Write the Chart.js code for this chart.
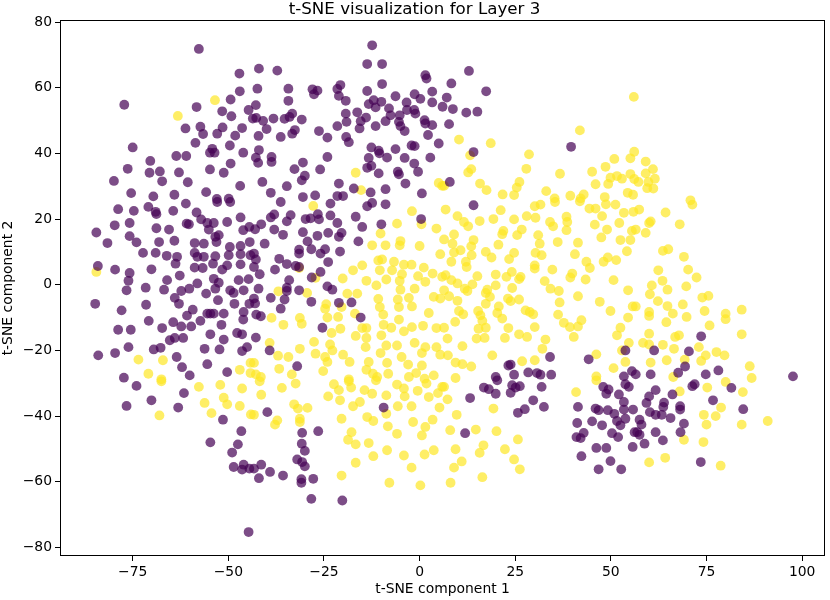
<!DOCTYPE html>
<html>
<head>
<meta charset="utf-8">
<script src="https://cdn.jsdelivr.net/npm/chart.js@4.4.1/dist/chart.umd.min.js"></script>
<style>
html, body { margin: 0; padding: 0; background: #fff; }
#wrap { width: 830px; height: 600px; }
</style>
</head>
<body>
<div id="wrap"><canvas id="tsneChart" width="830" height="600"></canvas></div>
<script>

// class 0 (dark purple) points
const class0 = [
  [-57.7,71.8],[-47.1,64.3],[-47.0,58.9],[-49.4,56.4],[-77.2,54.8],[-58.3,54.1],[-44.7,53.2],[-51.6,52.8],[-49.2,51.3],
  [-61.2,47.6],[-57.3,48.1],[-56.6,45.9],[-52.9,46.0],[-51.5,47.9],[-46.4,47.7],[-48.2,45.4],[-58.6,43.2],[-75.0,41.8],
  [-54.2,41.4],[-54.8,40.2],[-53.6,40.2],[-49.6,42.4],[-46.1,40.2],[-63.6,39.2],[-61.0,39.2],[-70.4,37.7],[-49.4,36.9],
  [-76.3,35.3],[-54.8,35.1],[-70.6,34.1],[-67.9,34.5],[-62.9,34.2],[-51.2,34.1],[-79.9,31.6],[-67.3,31.5],[-60.6,31.2],
  [-46.9,30.1],[-75.4,27.9],[-69.6,26.9],[-64.1,27.4],[-55.8,28.2],[-53.0,26.1],[-49.9,26.2],[-43.6,50.6],
  [-12.4,72.9],[-13.7,67.2],[-9.8,67.2],[-42.0,65.8],[-37.2,65.2],[1.5,63.8],[1.8,62.8],[-9.8,61.1],[-42.4,59.7],
  [-34.3,59.7],[-13.7,59.0],[-28.0,59.5],[-26.7,59.1],[-27.6,58.0],[-20.7,60.8],[-21.5,59.6],[-21.1,57.5],[-6.3,57.4],
  [-1.3,58.0],[3.3,58.8],[0.2,56.6],[-34.3,56.0],[-19.3,56.0],[-13.3,55.0],[-12.0,56.2],[-10.0,55.7],[-11.5,54.0],
  [-3.4,55.5],[3.3,55.5],[-42.8,54.7],[-8.0,53.7],[-3.3,53.2],[-1.4,53.2],[6.0,54.2],[-16.3,52.5],[-19.3,52.1],
  [-7.6,51.6],[-5.2,51.6],[-1.1,52.1],[-14.0,50.9],[-33.3,52.1],[-34.0,51.1],[-35.3,50.5],[-30.8,50.3],[-42.7,50.8],
  [-40.9,49.9],[-38.2,50.6],[-15.4,49.8],[-19.1,49.6],[-8.9,49.8],[-5.4,49.6],[1.3,50.1],[1.5,49.1],[3.3,48.6],
  [-40.0,47.4],[-21.5,48.3],[-15.7,47.6],[-11.5,48.3],[-5.0,48.3],[-32.6,47.1],[-33.3,46.0],[-26.3,46.8],[-3.9,46.8],
  [-42.1,45.3],[-36.3,45.0],[-24.1,44.8],[-19.2,45.0],[2.2,45.6],[-18.5,43.4],[5.0,43.0],[-12.6,41.8],[-6.3,41.3],
  [-2.1,42.4],[-1.3,42.2],[-42.0,41.0],[-10.7,40.8],[-10.5,40.0],[-8.5,38.7],[-13.3,38.6],[-3.9,38.6],[2.8,38.7],
  [-42.8,38.7],[-38.7,38.9],[-38.7,37.4],[-42.2,37.1],[-24.1,38.9],[-30.5,37.2],[-1.4,36.9],[-12.6,36.2],[-13.7,35.6],
  [-32.7,35.2],[-26.0,35.1],[-5.7,34.4],[-5.4,33.6],[-10.7,33.9],[-0.4,34.4],[-30.0,33.2],[-30.8,31.8],[-41.1,31.3],
  [-21.1,30.8],[-3.7,30.8],[-34.7,30.0],[-8.9,29.1],[-17.2,29.3],[-38.9,28.0],[-12.8,28.1],[0.6,27.8],[-27.3,27.2],
  [-30.5,26.7],[-21.5,27.0],[-20.0,27.0],
  [12.9,65.1],[8.3,61.3],[17.4,58.9],[7.1,57.0],[8.7,53.5],[12.2,52.4],[15.1,52.7],[7.7,48.9],[39.6,42.0],[14.1,40.4],[7.9,31.3],
  [-78.8,23.0],[-74.7,22.5],[-70.9,23.7],[-69.0,22.2],[-68.8,21.5],[-64.4,22.5],[-61.1,24.7],[-58.3,22.0],[-52.9,25.2],
  [-49.5,25.2],[-79.7,18.1],[-75.8,18.8],[-68.8,17.2],[-65.5,16.8],[-60.9,18.6],[-60.3,18.4],[-57.1,19.9],[-55.5,18.8],
  [-53.8,18.8],[-50.3,19.1],[-46.8,20.5],[-55.1,16.8],[-46.1,16.6],[-44.5,17.6],[-84.5,15.9],[-81.6,12.7],[-75.8,14.8],
  [-74.0,12.9],[-68.1,13.0],[-64.1,13.4],[-58.8,12.7],[-56.4,12.5],[-53.4,14.6],[-52.5,15.1],[-53.1,13.0],[-49.6,11.5],
  [-46.8,11.8],[-44.4,13.0],[-72.3,9.7],[-69.0,9.7],[-66.1,8.8],[-63.4,8.5],[-63.8,6.4],[-58.8,9.7],[-58.1,8.5],
  [-56.4,8.5],[-53.4,8.7],[-49.9,9.0],[-46.8,9.3],[-44.2,9.0],[-84.1,5.7],[-79.6,4.6],[-75.8,3.6],[-70.1,4.7],
  [-62.7,2.8],[-58.8,5.2],[-56.7,5.1],[-54.0,6.4],[-51.6,4.6],[-50.3,5.9],[-46.8,6.2],[-76.1,1.2],[-66.0,1.4],
  [-58.1,0.4],[-53.8,1.8],[-52.5,0.6],[-47.3,1.4],[-44.7,1.7],[-76.6,-1.7],[-71.6,-0.9],[-66.8,-1.5],[-62.3,-1.9],
  [-60.2,-1.2],[-55.8,-2.7],[-53.4,-1.2],[-49.5,-1.7],[-48.6,-2.5],[-46.0,-1.7],[-64.0,-4.0],[-62.9,-5.8],[-52.7,-4.7],
  [-84.8,-5.8],[-71.5,-6.1],[-48.4,-5.8],[-44.5,-5.8],[-77.9,-7.8],[-59.3,-7.6],[-60.8,-9.4],[-55.5,-8.8],[-54.7,-8.8],
  [-53.8,-8.8],[-51.2,-8.8],[-46.0,-8.3],[-46.1,-10.6],[-70.8,-11.0],[-57.3,-11.0],[-78.8,-13.7],[-75.5,-13.7],[-67.3,-13.2],
  [-64.4,-11.4],[-62.3,-12.7],[-59.7,-12.7],[-51.8,-12.2],[-54.7,-15.1],[-47.7,-14.7],[-46.4,-15.1],[-65.3,-16.9],[-64.0,-16.2],
  [-61.8,-16.2],[-51.2,-16.7],[-76.1,-19.0],[-69.5,-19.7],[-67.7,-19.2],[-56.2,-19.5],[-52.3,-19.7],[-46.4,-20.2],[-45.1,-19.0],
  [-84.0,-21.5],[-79.6,-20.8],[-63.5,-22.0],[-62.1,-25.1],[-55.5,-24.2],[-50.3,-26.6],[-60.1,-27.6],[-77.3,-28.3],
  [-36.3,25.2],[-23.3,24.7],[-13.7,23.9],[-12.4,24.9],[-8.9,24.5],[-38.0,21.4],[-38.9,20.5],[-33.7,21.2],[-34.7,19.3],
  [-29.8,20.0],[-28.5,20.2],[-26.6,21.5],[-26.3,19.9],[-23.3,21.1],[-21.5,18.8],[-16.7,20.7],[0.4,20.0],[-10.0,18.4],
  [-15.0,17.6],[-41.4,18.4],[-43.0,16.9],[-38.0,16.8],[-30.5,16.0],[-26.7,14.9],[-23.9,15.8],[-20.4,15.8],[-21.1,14.6],
  [-35.7,15.2],[-40.5,12.5],[-29.3,13.2],[-16.0,13.2],[-31.5,10.7],[-31.5,9.5],[-28.3,10.8],[-25.9,9.5],[-24.7,10.8],
  [-20.8,10.1],[-43.3,9.5],[-42.8,7.7],[-36.7,7.9],[-34.7,6.3],[-23.9,6.9],[-43.3,5.4],[-41.8,3.2],[-37.8,4.6],
  [-32.4,5.7],[-31.5,5.4],[-25.9,3.9],[-28.2,2.2],[-34.1,1.4],[-42.1,-1.2],[-34.7,-0.9],[-34.7,-1.9],[-31.5,-1.7],
  [-24.1,-0.5],[-22.8,-1.5],[-43.3,-4.2],[-38.9,-4.0],[-35.3,-4.5],[-43.0,-5.7],[-28.3,-5.2],[-21.1,-5.5],[-17.8,-5.4],
  [-36.3,-7.3],[-42.7,-9.1],[-41.5,-9.6],[-15.4,-10.0],[-25.4,-13.1],[-42.8,-16.1],[-39.2,-20.0],[-32.0,-24.8],
  [14.1,24.2],[23.8,-24.3],[23.2,-24.6],[24.7,-27.4],[19.9,-28.1],[28.4,-26.7],[30.7,-26.9],[31.6,-27.4],[34.4,-27.4],
  [34.1,-22.0],[44.2,-22.7],[53.8,-20.0],[53.4,-27.9],[55.5,-26.3],
  [73.6,-15.7],[61.3,-20.0],[70.4,-20.3],[69.4,-24.9],[67.6,-26.8],[74.8,-27.3],[78.1,-26.1],[97.6,-27.9],[56.5,-27.3],[60.4,-27.3],
  [-74.0,-30.8],[-70.1,-35.2],[-76.6,-36.9],[-61.6,-33.0],[-63.1,-37.4],[-51.4,-41.1],[-46.6,-44.6],[-54.7,-48.0],
  [-47.5,-48.6],[-49.0,-51.1],[-48.6,-55.5],[-46.0,-54.8],[-46.4,-56.3],[-44.5,-56.0],[-44.7,-75.3],
  [-39.8,-38.8],[-9.4,-37.4],[-30.7,-45.1],[-26.5,-44.6],[-30.8,-48.4],[-30.0,-50.6],[-32.0,-53.2],[-30.7,-54.0],
  [-30.0,-55.3],[-43.3,-56.0],[-41.4,-54.8],[-42.0,-58.9],[-39.1,-57.0],[-35.7,-58.1],[-30.9,-59.2],[-30.9,-60.3],
  [-27.8,-59.1],[-28.3,-65.2],[-20.2,-65.7],
  [16.8,-31.3],[18.1,-31.8],[19.9,-33.2],[20.3,-29.1],[24.2,-30.6],[25.1,-31.3],[26.2,-30.9],[23.8,-32.9],[31.9,-31.1],
  [13.2,-34.5],[29.7,-35.2],[32.5,-37.2],[27.5,-37.9],[25.7,-39.0],[11.9,-45.2],[41.4,-37.2],[41.2,-42.1],[45.1,-41.6],
  [46.0,-37.7],[46.8,-38.2],[49.2,-38.2],[47.7,-42.8],[48.0,-31.1],[49.4,-31.9],[48.8,-33.2],[52.1,-33.4],[53.4,-35.7],
  [53.4,-38.0],[50.9,-39.3],[51.6,-41.5],[53.8,-40.8],[52.5,-42.8],[50.3,-45.2],[51.9,-46.4],[42.9,-45.1],[41.0,-46.4],
  [42.1,-46.7],[46.2,-49.7],[48.8,-49.7],[42.3,-52.2],[49.9,-53.7],[46.8,-56.2],[52.7,-56.2],[53.8,-30.3],[54.7,-31.1],
  [55.8,-38.0],[56.2,-44.9],[55.7,-49.4],
  [61.7,-32.1],[60.0,-34.0],[66.1,-33.4],[59.3,-36.0],[63.9,-35.9],[63.7,-37.2],[68.1,-37.0],[68.1,-38.0],[71.3,-30.9],
  [71.9,-30.3],[81.5,-31.4],[76.7,-35.2],[84.6,-37.9],[60.2,-38.8],[61.7,-39.6],[63.3,-39.6],[65.6,-40.6],[57.5,-41.1],
  [58.0,-42.6],[69.1,-42.3],[68.2,-44.9],[61.7,-44.9],[56.9,-44.9],[57.5,-45.7],[63.6,-47.4],[58.8,-48.4],[73.5,-54.0]
];

// class 1 (yellow) points
const class1 = [
  [-53.5,56.2],[-63.2,51.4],[-16.7,34.1],[-15.3,28.8],[5.0,31.0],[5.9,30.1],
  [56.0,57.2],[41.9,47.0],[10.3,44.2],[18.6,43.1],[28.6,39.7],[13.2,39.4],[13.5,35.2],[12.7,34.2],[27.9,35.3],
  [36.7,33.8],[45.1,34.4],[48.6,35.9],[50.9,38.3],[55.1,38.5],[56.1,40.5],[15.8,30.8],[17.5,28.8],[26.1,31.3],
  [25.4,29.6],[24.7,27.3],[21.7,27.5],[33.1,28.5],[35.3,26.3],[39.4,27.1],[42.1,26.3],[42.9,27.5],[46.0,30.6],
  [49.3,30.7],[49.9,32.6],[51.6,33.1],[52.9,32.3],[55.1,33.7],[56.1,32.2],[54.4,28.0],[55.8,27.4],[48.4,26.7],[6.4,30.1],
  [59.1,37.5],[61.0,35.2],[59.1,33.9],[61.5,32.3],[57.2,31.3],[59.8,31.3],[59.5,29.4],[61.1,29.3],[70.8,25.7],
  [-84.5,3.9],[-73.5,-22.8],[-67.1,-23.0],[-70.9,-27.1],[-67.5,-28.8],[-47.0,-25.9],[-44.2,-23.8],[-44.2,-26.9],
  [-27.8,24.0],[-2.0,22.4],[-5.9,18.6],[0.5,18.4],[4.4,17.1],[-10.2,15.6],[-12.4,12.0],[-8.9,12.0],[-5.0,13.3],
  [-5.2,12.0],[0.0,11.8],[5.4,9.3],[-10.8,7.4],[-9.8,7.7],[-6.7,7.0],[-4.1,6.1],[-2.1,6.1],[-15.0,5.9],[-17.4,4.4],
  [-10.4,4.4],[-7.2,4.4],[-4.6,3.2],[1.1,5.2],[3.4,3.4],[-0.4,2.6],[-31.5,5.1],[-27.2,2.1],[-20.1,1.9],[-13.9,1.2],
  [-8.7,1.6],[-5.2,1.2],[1.5,0.9],[5.9,2.4],[-11.3,-0.2],[-5.0,-1.5],[-1.3,-1.2],[-29.4,-2.5],[-36.9,-2.0],[-18.9,-2.7],
  [-16.3,-2.7],[-10.8,-4.3],[-5.7,-4.5],[-2.8,-4.0],[3.7,-3.7],[5.4,-4.2],[-24.4,-5.9],[-10.4,-6.8],[-5.4,-6.8],
  [-2.0,-6.6],[-24.7,-7.3],[-20.4,-6.8],[-9.5,-9.1],[2.4,-8.6],[-16.9,-8.8],[-31.3,-10.1],[-30.8,-11.9],[-38.7,-10.1],
  [-35.6,-12.2],[-24.1,-10.0],[-21.3,-9.8],[-5.4,-10.6],[-15.0,-13.2],[-13.9,-13.2],[-9.4,-12.2],[-7.4,-13.1],[-4.1,-14.2],
  [-2.0,-12.9],[0.9,-12.5],[4.4,-13.2],[-23.0,-14.7],[-20.7,-13.4],[-16.7,-15.6],[-13.9,-16.2],[-10.0,-15.4],[-39.2,-17.7],
  [-27.6,-17.4],[-23.4,-18.2],[-31.3,-19.5],[-14.1,-19.0],[-8.7,-18.5],[-5.9,-18.5],[-1.3,-17.7],[1.5,-19.0],[4.4,-19.0],
  [-37.0,-21.6],[-34.3,-22.0],[-27.2,-21.0],[-22.8,-20.0],[-24.7,-22.0],[-20.0,-21.3],[-10.2,-20.8],[-4.7,-22.0],[0.6,-20.8],
  [5.4,-21.3],[-43.3,-23.8],[-36.7,-25.6],[-24.1,-23.5],[-18.3,-23.5],[-13.3,-23.5],[-8.5,-23.8],[-3.0,-24.3],[0.6,-24.6],
  [-33.4,-27.3],[-25.2,-26.3],[-13.9,-25.9],[-12.2,-27.1],[-8.2,-27.1],[-0.9,-26.9],[-42.8,-27.3],[-41.5,-28.1],[-18.5,-28.8],
  [-11.1,-28.1],[-2.8,-28.1],[1.3,-28.6],[3.7,-27.6],
  [6.8,22.9],[9.9,20.9],[11.6,19.1],[12.7,17.8],[15.7,19.4],[19.3,20.0],[21.2,22.7],[24.7,19.9],[28.0,20.9],[30.1,23.9],
  [31.6,24.4],[30.3,20.4],[34.1,19.1],[34.9,17.8],[35.4,25.2],[38.4,20.7],[38.6,19.1],[38.4,16.6],[41.9,25.4],[44.4,23.2],
  [46.0,23.2],[48.7,24.5],[51.2,24.4],[53.4,21.9],[55.9,22.2],[47.7,20.9],[45.8,18.3],[52.2,18.8],[49.0,16.8],[55.5,16.4],
  [47.5,14.4],[52.5,13.6],[55.1,13.6],[54.2,10.2],[9.0,15.3],[6.4,13.8],[14.1,13.6],[13.5,11.7],[8.6,12.5],[10.7,10.5],
  [9.0,9.8],[8.3,7.0],[12.1,7.0],[12.3,5.4],[13.6,9.0],[17.3,10.0],[18.8,8.3],[20.6,12.2],[21.6,15.4],[21.9,16.4],
  [26.7,16.8],[25.5,15.1],[31.0,15.1],[31.4,12.5],[36.1,13.0],[41.4,12.8],[24.7,9.7],[23.4,7.8],[30.3,9.7],[31.9,9.0],
  [40.6,9.3],[30.1,5.9],[30.1,4.9],[34.7,4.6],[43.6,7.0],[44.5,5.1],[48.1,7.0],[49.2,8.3],[51.4,7.5],[39.9,3.4],
  [39.4,2.2],[43.4,1.6],[50.7,1.4],[6.8,2.9],[8.3,1.4],[9.9,0.4],[15.1,2.6],[13.8,0.1],[19.9,3.1],[22.7,2.4],
  [24.1,3.9],[26.4,2.4],[26.0,1.7],[19.9,-0.2],[24.2,-1.0],[32.7,1.1],[34.2,-1.2],[36.4,-1.9],[6.4,-1.7],[7.7,-3.5],
  [11.8,-1.2],[12.5,-1.9],[17.7,-1.5],[17.3,-2.5],[18.4,-3.7],[23.1,-4.2],[23.8,-5.0],[26.0,-4.5],[41.4,-3.5],[47.1,-5.2],
  [54.5,-1.7],[9.9,-4.9],[17.3,-5.8],[20.7,-6.6],[36.6,-5.4],[55.7,-6.6],[10.3,-8.0],[11.4,-9.0],[15.3,-8.0],[15.9,-9.3],
  [20.3,-8.6],[21.6,-10.3],[27.7,-7.8],[28.8,-8.3],[29.7,-9.0],[36.2,-9.1],[49.9,-8.0],[54.5,-10.0],[9.3,-11.3],[16.4,-11.0],
  [15.4,-13.4],[17.3,-13.1],[23.2,-13.2],[30.1,-12.9],[37.7,-11.6],[39.3,-12.9],[42.3,-10.8],[41.4,-12.7],[52.5,-13.1],[6.4,-13.1],
  [7.3,-16.4],[14.9,-16.4],[17.0,-16.2],[22.3,-16.2],[26.0,-15.1],[28.1,-15.9],[32.9,-16.7],[40.3,-15.9],[51.6,-15.4],[54.7,-17.7],
  [11.2,-18.7],[32.1,-19.5],[52.9,-20.0],[7.4,-21.5],[19.0,-21.5],[46.2,-21.2],[9.4,-23.7],[11.2,-24.2],[13.5,-24.9],[26.8,-23.3],
  [30.1,-23.0],[53.8,-23.5],[50.7,-25.4],[9.4,-28.4],[46.2,-27.9],
  [57.4,22.9],[64.3,22.0],[71.3,24.4],[60.4,19.3],[60.0,18.8],[68.0,18.4],[56.5,16.8],[59.1,15.8],[63.6,10.3],[65.0,10.8],
  [69.1,8.5],[70.2,4.6],[62.4,4.4],[72.4,2.2],[63.5,1.2],[60.7,-0.2],[64.8,-1.5],[69.7,-0.5],[60.2,-2.9],[73.9,-3.9],
  [75.5,-3.4],[62.3,-5.0],[56.5,-6.6],[64.8,-6.5],[68.8,-6.0],[74.5,-8.0],[84.2,-7.6],[60.0,-8.3],[60.0,-9.5],[66.2,-8.8],
  [69.8,-9.8],[80.0,-8.8],[80.0,-10.5],[64.5,-11.4],[75.8,-12.4],[60.0,-14.9],[66.8,-15.9],[67.8,-15.4],[84.2,-15.1],[58.4,-17.7],
  [60.0,-18.2],[63.6,-18.3],[66.5,-19.5],[73.0,-19.0],[77.6,-20.5],[74.8,-21.5],[79.7,-21.5],[64.6,-23.0],[69.3,-22.8],[73.6,-23.2],
  [60.4,-23.7],[86.3,-24.8],[66.3,-28.1],[86.8,-28.4],
  [-67.5,-29.4],[-57.7,-31.1],[-52.1,-30.5],[-46.4,-31.6],[-56.2,-36.0],[-51.2,-34.4],[-50.3,-36.4],[-47.0,-36.9],
  [-54.4,-39.1],[-68.0,-39.8],[-44.1,-39.5],
  [-41.8,-29.4],[-32.4,-30.1],[-36.0,-31.4],[-41.4,-33.5],[-43.3,-39.6],[-32.8,-36.4],[-31.8,-37.7],[-29.3,-37.5],
  [-37.2,-41.3],[-37.8,-42.6],[-31.3,-40.8],[-31.3,-41.8],[-23.9,-34.0],[-22.4,-30.3],[-21.1,-32.1],[-18.5,-29.4],
  [-17.9,-31.3],[-20.8,-35.2],[-17.4,-37.0],[-15.6,-35.7],[-14.4,-32.1],[-12.4,-33.2],[-11.4,-29.1],[-20.4,-40.8],
  [-13.7,-40.3],[-12.1,-41.5],[-8.7,-33.7],[-8.7,-39.3],[-8.3,-43.1],[-5.9,-30.4],[-4.1,-31.6],[-3.9,-34.0],[-5.7,-37.0],
  [-2.1,-37.0],[-0.5,-32.3],[1.8,-30.1],[2.4,-34.2],[4.8,-33.0],[5.2,-37.4],[5.9,-31.1],[-1.7,-41.8],[1.5,-43.3],
  [3.4,-41.1],[0.6,-45.9],[-5.9,-45.4],[-17.8,-44.9],[-18.7,-47.2],[-16.7,-48.6],[-13.3,-48.2],[-8.5,-50.4],[-4.1,-52.0],
  [1.3,-51.7],[3.7,-50.4],[-12.1,-52.2],[-16.7,-54.2],[-2.1,-55.7],[-20.4,-58.1],[-7.9,-60.3],[0.2,-61.1],
  [6.4,-31.1],[7.3,-34.9],[9.7,-39.6],[8.0,-44.3],[14.7,-44.1],[20.1,-44.6],[19.3,-37.7],[40.9,-32.7],[25.7,-47.1],
  [16.7,-48.9],[15.7,-51.2],[9.4,-50.1],[11.0,-53.8],[22.3,-50.1],[24.7,-53.2],[26.2,-56.2],[9.0,-55.7],[16.4,-58.6],
  [8.1,-60.3],[46.2,-29.1],
  [75.2,-31.3],[80.0,-29.6],[68.0,-32.5],[84.5,-32.7],[78.8,-37.4],[74.3,-39.6],[77.4,-40.0],[75.0,-42.6],[84.2,-42.6],
  [91.0,-41.5],[69.1,-47.2],[74.2,-47.9],[64.2,-52.7],[60.0,-54.1],[78.7,-55.1]
];

const xTicks = [-75, -50, -25, 0, 25, 50, 75, 100];
const yTicks = [-80, -60, -40, -20, 0, 20, 40, 60, 80];
const xLimits = [-94.0, 106.0];
const yLimits = [-82.6, 80.6];

const tickFont = { family: "'DejaVu Sans', sans-serif", size: 13.9 };

function toXY(list) {
  return list.map(p => ({ x: p[0], y: p[1] }));
}

function mplLabel(v) {
  return v < 0 ? '\u2212' + Math.abs(v) : String(v);
}

// frame round the plot area like matplotlib spines
const frame = {
  id: 'frame',
  afterDatasetsDraw(chart) {
    const a = chart.chartArea;
    const ctx = chart.ctx;
    ctx.save();
    ctx.strokeStyle = '#000';
    ctx.lineWidth = 1;
    ctx.strokeRect(Math.round(a.left) + 0.5, Math.round(a.top) + 0.5,
                   Math.round(a.right - a.left) - 1, Math.round(a.bottom - a.top) - 1);
    ctx.restore();
  }
};

new Chart(document.getElementById('tsneChart').getContext('2d'), {
  type: 'scatter',
  data: {
    datasets: [
      {
        label: 'class 0',
        data: toXY(class0),
        backgroundColor: 'rgba(68, 1, 84, 0.7)',
        borderWidth: 0,
        pointRadius: 4.9,
        pointHoverRadius: 4.9
      },
      {
        label: 'class 1',
        data: toXY(class1),
        backgroundColor: 'rgba(253, 231, 37, 0.7)',
        borderWidth: 0,
        pointRadius: 4.9,
        pointHoverRadius: 4.9
      }
    ]
  },
  options: {
    responsive: false,
    animation: false,
    devicePixelRatio: 1,
    layout: { padding: { left: 0, right: 1, top: 0, bottom: 0 } },
    plugins: {
      legend: { display: false },
      tooltip: { enabled: false },
      title: {
        display: true,
        text: 't-SNE visualization for Layer 3',
        color: '#000',
        font: { family: "'DejaVu Sans', sans-serif", size: 16.7, weight: 'normal', lineHeight: 1.2 },
        padding: { top: 0, bottom: 0 }
      }
    },
    scales: {
      x: {
        type: 'linear',
        min: xLimits[0],
        max: xLimits[1],
        afterBuildTicks: (scale) => { scale.ticks = xTicks.map(v => ({ value: v })); },
        afterFit: (scale) => { scale.height = 44; },
        grid: { drawOnChartArea: false, drawTicks: true, tickLength: 5, color: '#000', tickWidth: 1 },
        border: { display: false },
        ticks: { color: '#000', font: tickFont, padding: 3, maxRotation: 0, callback: (v) => mplLabel(v) },
        title: { display: true, text: 't-SNE component 1', color: '#000', font: tickFont, padding: { top: 0, bottom: 2 } }
      },
      y: {
        type: 'linear',
        min: yLimits[0],
        max: yLimits[1],
        afterBuildTicks: (scale) => { scale.ticks = yTicks.map(v => ({ value: v })); },
        afterFit: (scale) => { scale.width = 60; },
        grid: { drawOnChartArea: false, drawTicks: true, tickLength: 5, color: '#000', tickWidth: 1 },
        border: { display: false },
        ticks: { color: '#000', font: tickFont, padding: 3, callback: (v) => mplLabel(v) },
        title: { display: true, text: 't-SNE component 2', color: '#000', font: tickFont, padding: { top: 0, bottom: 0 } }
      }
    }
  },
  plugins: [frame]
});
</script>
</body>
</html>
